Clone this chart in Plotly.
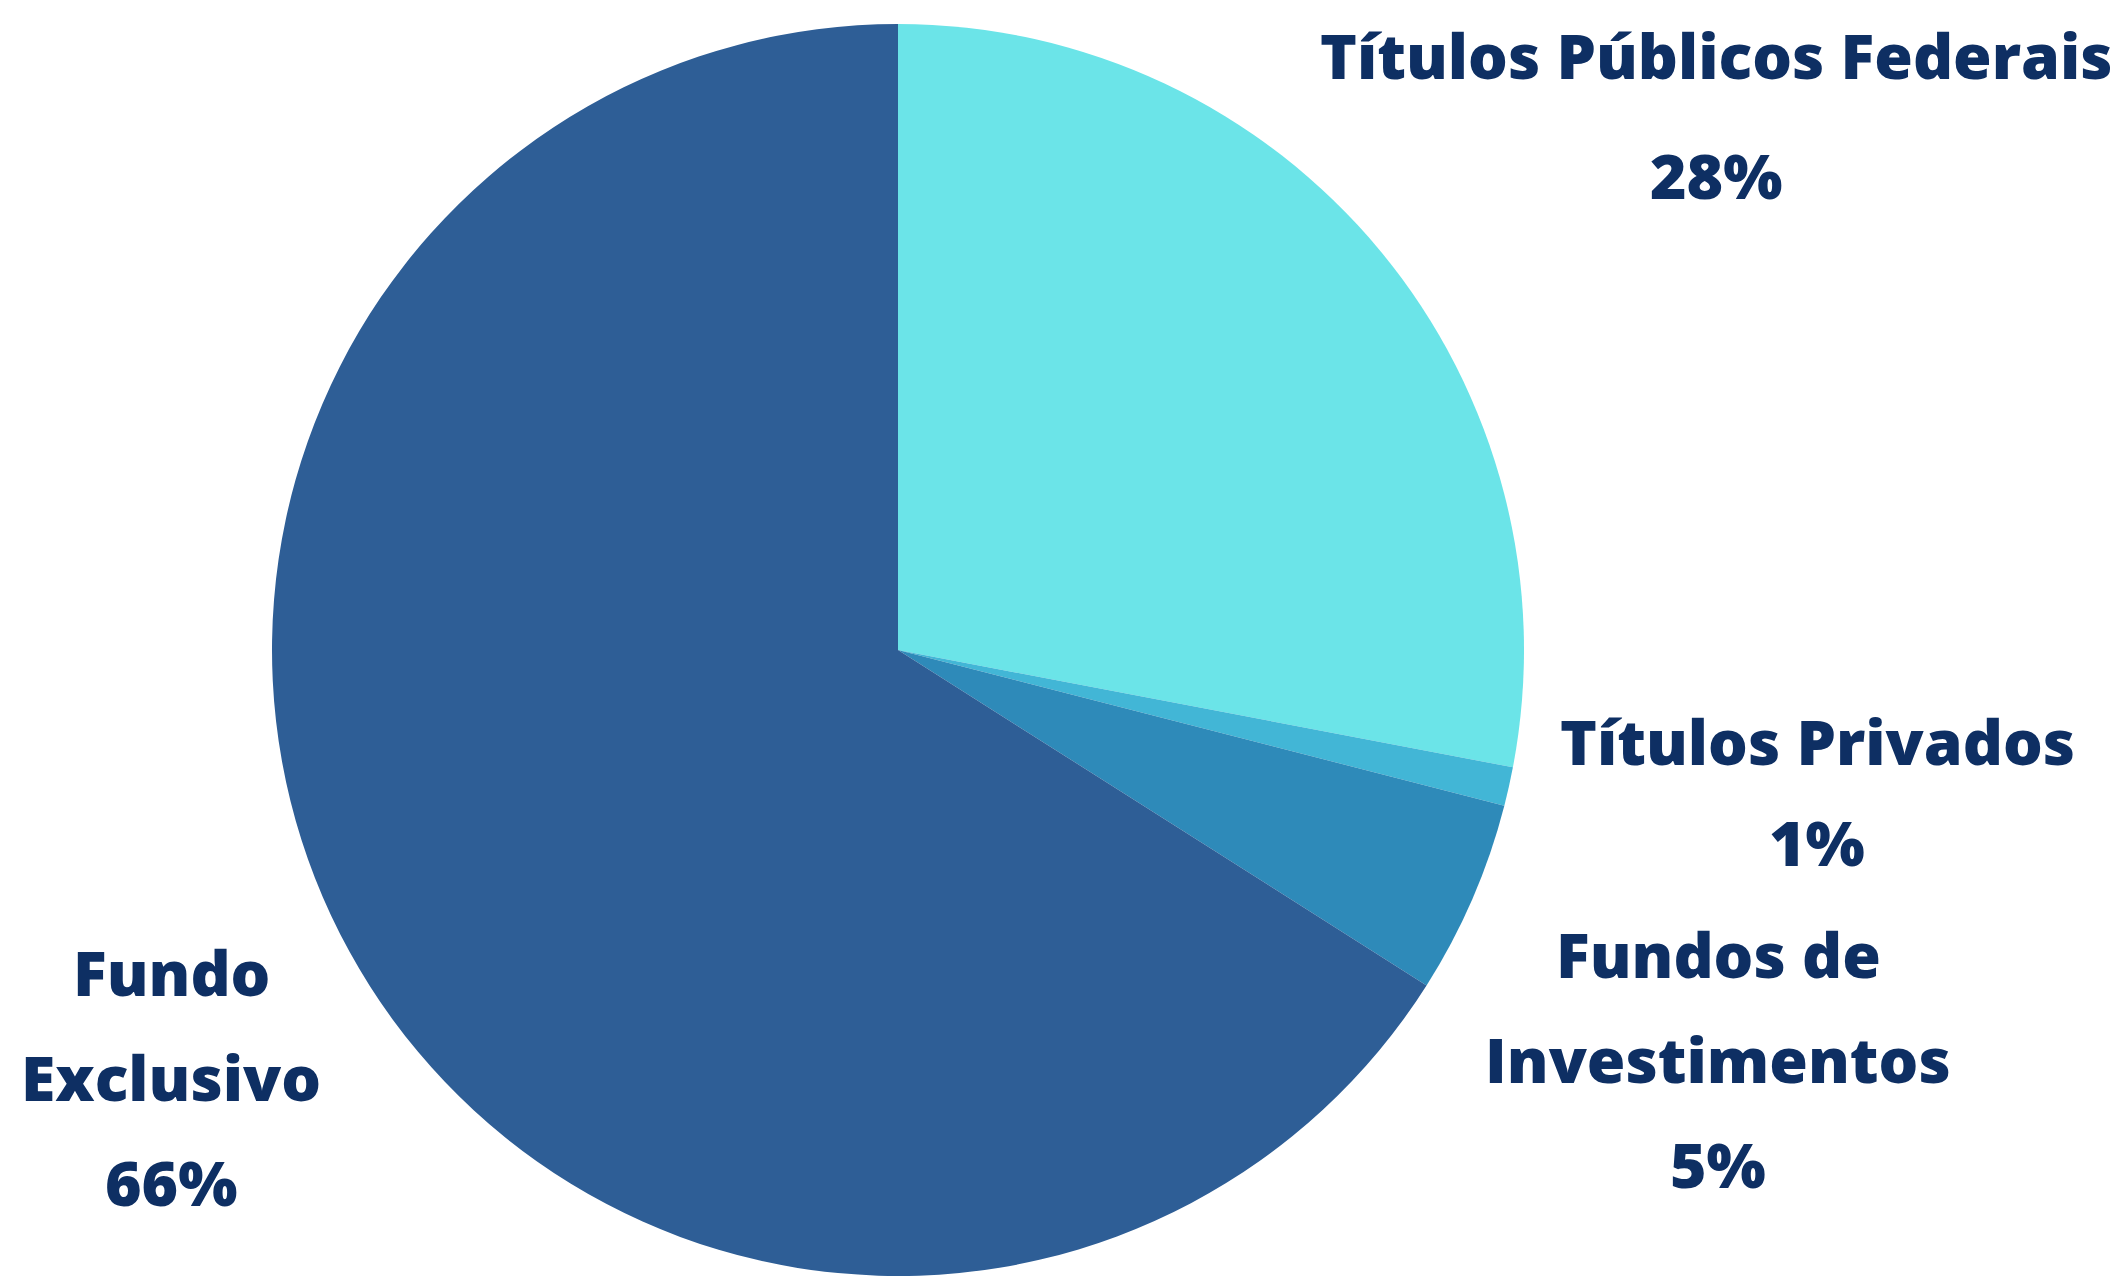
import plotly.graph_objects as go

W, H = 2122, 1276

# Data
categories = ["Títulos Públicos Federais", "Títulos Privados", "Fundos de Investimentos", "Fundo Exclusivo"]
values = [28, 1, 5, 66]
label_lines = [["Títulos Públicos Federais"], ["Títulos Privados"], ["Fundos de", "Investimentos"], ["Fundo", "Exclusivo"]]
colors = ["#6BE4E8", "#42B6D6", "#2E8AB9", "#2E5E96"]

# Label layout (pixel centre x, first-line y, line spacing)
label_pos = [(1716, 54, 121), (1817, 740, 101), (1718, 953, 105), (171, 971, 105)]

text_color = "#0E2F63"
font = dict(family="Open Sans", size=62.5, weight=800, color=text_color)

cx, cy, r = 898, 650, 626

fig = go.Figure(go.Pie(
    labels=categories,
    values=values,
    sort=False,
    direction="clockwise",
    rotation=0,
    marker=dict(colors=colors, line=dict(width=0)),
    textinfo="none",
    hoverinfo="label+percent",
    showlegend=False,
    domain=dict(x=[(cx - r) / W, (cx + r) / W], y=[0, 1 - (cy - r) / H]),
))

for lines, v, (px, py, dy) in zip(label_lines, values, label_pos):
    all_lines = lines + [f"{v}%"]
    for i, t in enumerate(all_lines):
        fig.add_annotation(
            x=px / W, y=1 - (py + i * dy) / H, xref="paper", yref="paper",
            xanchor="center", yanchor="middle", text=t, showarrow=False, font=font,
        )

fig.update_layout(
    width=W, height=H,
    margin=dict(l=0, r=0, t=0, b=0),
    paper_bgcolor="white", plot_bgcolor="white",
)
fig.write_html("out.html")
